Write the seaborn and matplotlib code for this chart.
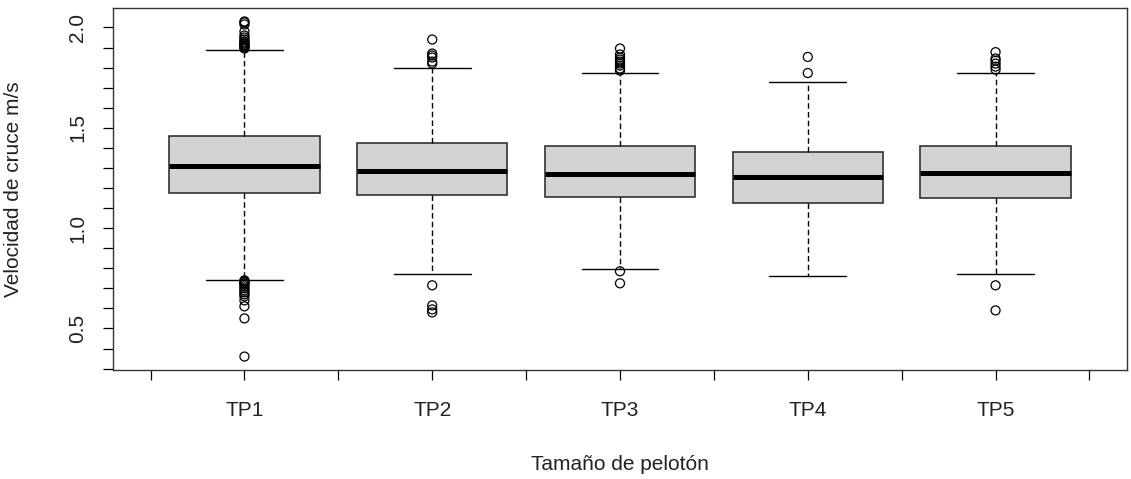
import numpy as np
import pandas as pd
import matplotlib
matplotlib.use("Agg")
import matplotlib.pyplot as plt
import seaborn as sns

# ---- data ----
groups = ["TP1", "TP2", "TP3", "TP4", "TP5"]
q1 = [1.173, 1.165, 1.157, 1.123, 1.148]
medians = [1.311, 1.287, 1.270, 1.257, 1.273]
q3 = [1.460, 1.423, 1.407, 1.378, 1.407]
whisker_low = [0.743, 0.770, 0.798, 0.763, 0.770]
whisker_high = [1.890, 1.798, 1.773, 1.730, 1.773]

outliers_tp1 = [2.030, 2.025, 2.015, 1.980, 1.960, 1.950, 1.940, 1.930, 1.925,
                1.920, 1.915, 1.910, 1.905, 1.900, 1.895,
                0.740, 0.735, 0.730, 0.725, 0.720, 0.710, 0.700, 0.690, 0.680,
                0.670, 0.660, 0.640, 0.610, 0.550, 0.360]
outliers_tp2 = [1.940, 1.870, 1.860, 1.850, 1.830, 1.820, 0.715, 0.615, 0.595, 0.580]
outliers_tp3 = [1.895, 1.865, 1.850, 1.840, 1.830, 1.820, 1.810, 1.795, 1.785, 0.785, 0.725]
outliers_tp4 = [1.853, 1.773]
outliers_tp5 = [1.877, 1.845, 1.835, 1.820, 1.805, 1.790, 0.715, 0.590]
outliers = [outliers_tp1, outliers_tp2, outliers_tp3, outliers_tp4, outliers_tp5]

x_label = "Tamaño de pelotón"
y_label = "Velocidad de cruce m/s"
y_major = [0.5, 1.0, 1.5, 2.0]

# ---- style ----
sns.set_style("white")
plt.rcParams['font.family'] = ['Liberation Sans', 'DejaVu Sans']

W, H = 1131, 479
fig = plt.figure(figsize=(W / 100, H / 100), dpi=100)
ax = fig.add_axes([113 / W, 1 - 370 / H, (1127 - 113) / W, (370 - 8) / H])

positions = np.arange(1, len(groups) + 1)
stats = [dict(label=g, q1=a, med=m, q3=b, whislo=lo, whishi=hi, fliers=[])
         for g, a, m, b, lo, hi in zip(groups, q1, medians, q3, whisker_low, whisker_high)]

ax.bxp(stats, positions=positions, widths=0.8, capwidths=0.41, patch_artist=True,
       showfliers=False,
       boxprops=dict(facecolor='#d3d3d3', edgecolor='#222222', linewidth=1.1),
       medianprops=dict(color='black', linewidth=3.6, solid_capstyle='butt'),
       whiskerprops=dict(color='black', linewidth=1.0, linestyle=(0, (4, 2.3))),
       capprops=dict(color='black', linewidth=1.0))

fl = pd.DataFrame({
    "pos": np.concatenate([[p] * len(o) for p, o in zip(positions, outliers)]),
    "value": np.concatenate(outliers),
})
sns.scatterplot(data=fl, x="pos", y="value", marker='o', s=42,
                facecolor='none', edgecolor='black', linewidth=0.9, ax=ax, zorder=5)

# axes limits (R-style 4% expansion)
ax.set_xlim(0.3, 5.7)
ax.set_ylim(0.293, 2.097)

ax.set_xticks(positions)
ax.set_xticklabels(groups)
ax.set_xticks(np.arange(0.5, 5.6, 1.0), minor=True)
ax.set_yticks(y_major)
ax.set_yticklabels([f"{v:.1f}" for v in y_major], rotation=90, va='center')
ax.set_yticks(np.round(np.arange(0.3, 2.01, 0.1), 2), minor=True)

ax.tick_params(axis='both', which='both', direction='out', length=7.5, width=0.9,
               color='black', labelsize=15, labelcolor='#222222', left=True, bottom=True)
ax.tick_params(axis='x', which='major', pad=15)
ax.tick_params(axis='y', which='major', pad=11)

for sp in ax.spines.values():
    sp.set_visible(True)
    sp.set_color('#333333')
    sp.set_linewidth(1.0)

ax.set_xlabel(x_label, fontsize=15, color='#222222')
ax.set_ylabel(y_label, fontsize=15, color='#222222')
ax.xaxis.set_label_coords(0.5, -(465 - 370) / 362)
ax.xaxis.label.set_verticalalignment('center')
ax.yaxis.set_label_coords(-(113 - 14) / 1014, 0.5)
ax.yaxis.label.set_verticalalignment('center')

fig.savefig("out.png", dpi=100)
